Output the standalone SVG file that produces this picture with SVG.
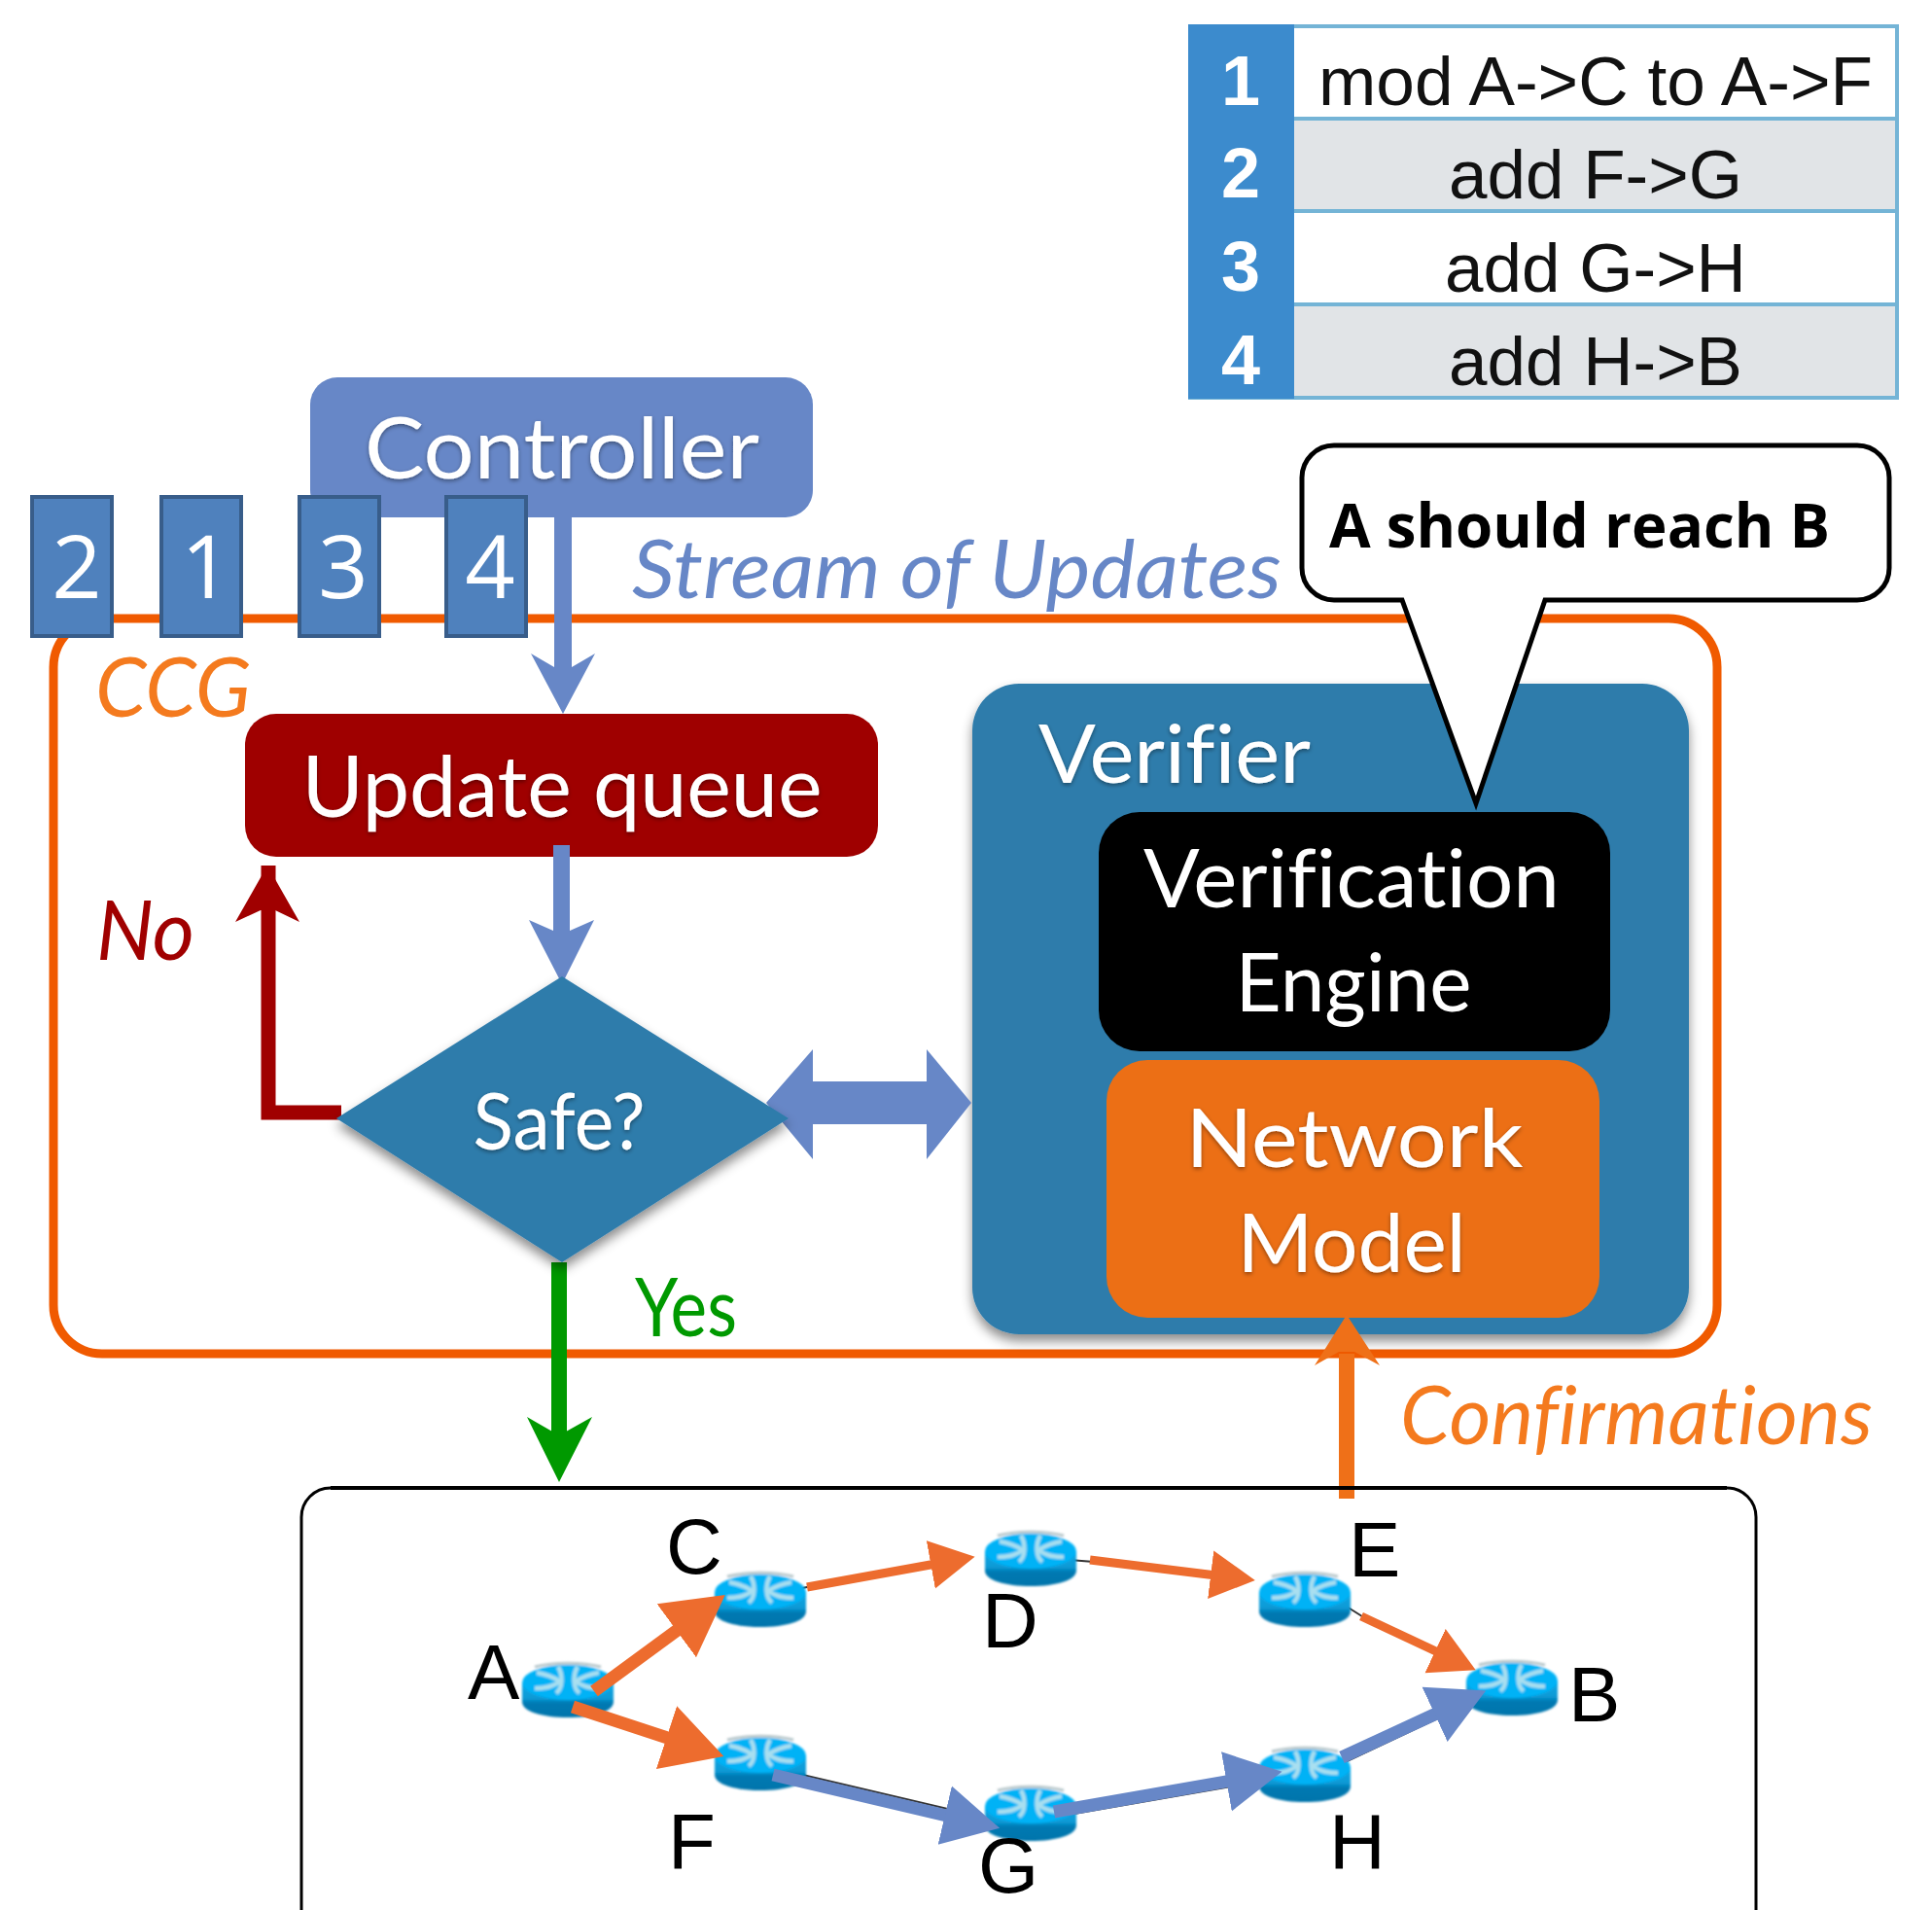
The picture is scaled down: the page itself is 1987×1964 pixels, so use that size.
<svg xmlns="http://www.w3.org/2000/svg" xmlns:xlink="http://www.w3.org/1999/xlink" width="1987" height="1964" viewBox="0 0 1987 1964">
<style>
text{font-variant-ligatures:none}
.gill{font-family:"Lato","Noto Sans",sans-serif;fill:#fff}
.arial{font-family:"Liberation Sans",Arial,sans-serif;fill:#000}
.tnum{font-family:"Liberation Sans",Arial,sans-serif;font-weight:700;fill:#fff;font-size:72px;text-anchor:middle}
.ttxt{font-size:71px;text-anchor:middle;fill:#111}
.node-lbl{font-size:80px}
.sq{fill:#4f81bd;stroke:#385d8a;stroke-width:4}
.sqt{font-family:"Open Sans","Noto Sans",sans-serif;fill:#fff;font-size:90px;text-anchor:middle}
.oline{stroke:#ed6c2e;fill:none}
.bline{stroke:#6787c7;fill:none}
.thin{stroke:#333;stroke-width:2;fill:none}
</style>
<defs>
<filter id="shadow" x="-10%" y="-10%" width="120%" height="125%"><feDropShadow dx="0" dy="7" stdDeviation="6" flood-color="#000" flood-opacity="0.45"/></filter>
<filter id="tshadow" x="-5%" y="-10%" width="110%" height="130%"><feDropShadow dx="0" dy="2" stdDeviation="2" flood-color="#000" flood-opacity="0.4"/></filter>
<filter id="soft" x="-10%" y="-10%" width="120%" height="120%"><feGaussianBlur stdDeviation="0.9"/></filter>
<linearGradient id="rbody" x1="0" y1="0" x2="0" y2="1"><stop offset="0" stop-color="#0ea6e4"/><stop offset="0.45" stop-color="#0a9ad6"/><stop offset="0.6" stop-color="#0079b2"/><stop offset="1" stop-color="#0075ab"/></linearGradient>
<marker id="ho-lg" markerUnits="userSpaceOnUse" markerWidth="70" markerHeight="70" refX="30" refY="34" orient="auto" viewBox="0 0 70 68"><path d="M0 0L62 34L0 68Z" fill="#ed6c2e"/></marker>
<marker id="ho" markerUnits="userSpaceOnUse" markerWidth="54" markerHeight="54" refX="22" refY="25" orient="auto" viewBox="0 0 54 50"><path d="M0 0L46 25L0 50Z" fill="#ed6c2e"/></marker>
<marker id="hb" markerUnits="userSpaceOnUse" markerWidth="66" markerHeight="66" refX="28" refY="31" orient="auto" viewBox="0 0 66 62"><path d="M0 0L58 31L0 62Z" fill="#6787c7"/></marker>
<g id="router" filter="url(#soft)">
<path d="M-47 -8V12C-47 22 -26 28 0 28S47 22 47 12V-8Z" fill="url(#rbody)"/>
<ellipse cx="0" cy="-8" rx="47" ry="18" fill="#00b2f6"/>
<path d="M-32 -18C-20 -16 -14 -13 -8 -9C-14 -5 -20 -2 -34 -2M32 -18C20 -16 14 -13 8 -9C14 -5 20 -2 34 -2M-10 -24C-5 -16 -5 -2 -12 3M10 -24C5 -16 5 -2 12 3" fill="none" stroke="#a9dff0" stroke-width="4.5"/>
<path d="M-34 -24C-14 -29 14 -29 34 -24" fill="none" stroke="#b8c8cc" stroke-width="3"/>
</g>
</defs>
<rect width="1987" height="1964" fill="#fff"/>

<g id="update-table">
<rect x="1224" y="27" width="727" height="382" fill="#fff"/>
<rect x="1331" y="122" width="620" height="95" fill="#e1e4e7"/>
<rect x="1331" y="313" width="620" height="96" fill="#e1e4e7"/>
<path d="M1331 122H1951M1331 217H1951M1331 313H1951" stroke="#74b4d6" stroke-width="4" fill="none"/>
<rect x="1224" y="27" width="727" height="382" fill="none" stroke="#74b4d6" stroke-width="4"/>
<rect x="1222" y="25" width="109" height="385" fill="#3c8bcd"/>
<text class="tnum" x="1276" y="108">1</text>
<text class="tnum" x="1276" y="203">2</text>
<text class="tnum" x="1276" y="299">3</text>
<text class="tnum" x="1276" y="395">4</text>
<text class="arial ttxt" x="1641" y="108" textLength="570" lengthAdjust="spacingAndGlyphs">mod A-&gt;C to A-&gt;F</text>
<text class="arial ttxt" x="1641" y="204">add F-&gt;G</text>
<text class="arial ttxt" x="1641" y="300">add G-&gt;H</text>
<text class="arial ttxt" x="1641" y="396">add H-&gt;B</text>
</g>

<g id="ccg">
<rect x="55" y="636" width="1711" height="756" rx="50" fill="none" stroke="#f05a00" stroke-width="9"/>
<text class="gill" x="98" y="737" font-size="86" font-style="italic" style="fill:#f47a1e" textLength="160" lengthAdjust="spacingAndGlyphs">CCG</text>
</g>

<g id="controller">
<rect x="319" y="388" width="517" height="144" rx="28" fill="#6787c7"/>
<text class="gill" x="578" y="492" font-size="88" text-anchor="middle" filter="url(#tshadow)" textLength="406" lengthAdjust="spacingAndGlyphs">Controller</text>
</g>

<g id="verifier">
<rect x="1000" y="703" width="737" height="669" rx="48" fill="#2f7cab" filter="url(#shadow)"/>
<text class="gill" x="1068" y="805" font-size="84" filter="url(#tshadow)" textLength="280" lengthAdjust="spacingAndGlyphs">Verifier</text>
</g>
<g id="verification-engine">
<rect x="1130" y="835" width="526" height="246" rx="42" fill="#000"/>
<text class="gill" x="1390" y="933" font-size="84" text-anchor="middle" textLength="428" lengthAdjust="spacingAndGlyphs">Verification</text>
<text class="gill" x="1392" y="1040" font-size="84" text-anchor="middle" textLength="243" lengthAdjust="spacingAndGlyphs">Engine</text>
</g>
<g id="network-model">
<rect x="1138" y="1090" width="507" height="265" rx="42" fill="#ec6f15"/>
<text class="gill" x="1393" y="1200" font-size="84" text-anchor="middle" filter="url(#tshadow)" textLength="347" lengthAdjust="spacingAndGlyphs">Network</text>
<text class="gill" x="1390" y="1308" font-size="84" text-anchor="middle" filter="url(#tshadow)" textLength="235" lengthAdjust="spacingAndGlyphs">Model</text>
</g>

<g id="update-queue">
<rect x="252" y="734" width="651" height="147" rx="32" fill="#9f0000"/>
<text class="gill" x="578" y="840" font-size="88" text-anchor="middle" filter="url(#tshadow)" textLength="535" lengthAdjust="spacingAndGlyphs">Update queue</text>
</g>

<g id="connectors">
<path d="M570 532V686L546 672L579 734L612 672L588 686V532Z" fill="#6787c7"/>
<path d="M569 869V957L544 946L578 1012L611 946L586 957V869Z" fill="#6787c7"/>
<path d="M351 1144H276V890" fill="none" stroke="#a00000" stroke-width="15"/>
<path d="M275 890L308 948L283 936H268L242 948Z" fill="#a00000"/>
<path d="M788 1134L836 1079V1112H953V1079L999 1134L953 1192V1156H836V1192Z" fill="#6787c7"/>
<path d="M575 1298V1480" fill="none" stroke="#009900" stroke-width="16"/>
<path d="M575 1524L542 1457L575 1476L609 1457Z" fill="#009900"/>
<path d="M1385 1541V1392" fill="none" stroke="#ef7018" stroke-width="16"/>
<path d="M1385 1352L1419 1404L1393 1390H1377L1352 1404Z" fill="#ef7018"/>
</g>

<g id="safe">
<path d="M346 1150L578 1004L811 1150L578 1298Z" fill="#2f7cab" filter="url(#shadow)"/>
<text class="gill" x="575" y="1182" font-size="82" text-anchor="middle" filter="url(#tshadow)" textLength="177" lengthAdjust="spacingAndGlyphs">Safe?</text>
</g>

<g id="label-no"><text class="gill" x="99" y="987" font-size="86" font-style="italic" style="fill:#a00000" textLength="101" lengthAdjust="spacingAndGlyphs">No</text></g>
<g id="label-yes"><text class="gill" x="653" y="1374" font-size="84" style="fill:#009900" textLength="105" lengthAdjust="spacingAndGlyphs">Yes</text></g>
<g id="label-stream"><text class="gill" x="650" y="615" font-size="84" font-style="italic" style="fill:#6787c7" textLength="668" lengthAdjust="spacingAndGlyphs">Stream of Updates</text></g>
<g id="label-confirm"><text class="gill" x="1440" y="1485" font-size="84" font-style="italic" style="fill:#f47a1e" textLength="486" lengthAdjust="spacingAndGlyphs">Confirmations</text></g>

<g id="update-2"><rect class="sq" x="33" y="511" width="82" height="143"/><text class="sqt" x="79" y="615">2</text></g>
<g id="update-1"><rect class="sq" x="166" y="511" width="82" height="143"/><text class="sqt" x="212" y="615">1</text></g>
<g id="update-3"><rect class="sq" x="308" y="511" width="82" height="143"/><text class="sqt" x="353" y="615">3</text></g>
<g id="update-4"><rect class="sq" x="459" y="511" width="82" height="143"/><text class="sqt" x="504" y="615">4</text></g>

<g id="callout">
<path d="M1372 458H1910A33 33 0 0 1 1943 491V584A33 33 0 0 1 1910 617H1589L1518 826L1442 617H1372A33 33 0 0 1 1339 584V491A33 33 0 0 1 1372 458Z" fill="#fff" stroke="#000" stroke-width="5"/>
<text x="1367" y="563" font-family="Open Sans, Noto Sans, sans-serif" font-weight="700" font-size="62" fill="#000" textLength="515" lengthAdjust="spacingAndGlyphs">A should reach B</text>
</g>

<g id="network-box">
<path d="M310 1964V1560A30 30 0 0 1 340 1530H1776A30 30 0 0 1 1806 1560V1964" fill="none" stroke="#000" stroke-width="3"/>
<path d="M340 1530H1776" fill="none" stroke="#000" stroke-width="4"/>
</g>

<g id="under-links">
<path class="thin" d="M820 1634L835 1631M1100 1604L1125 1606M1385 1652L1404 1664M800 1819L1000 1866M1070 1871L1300 1831M1381 1813L1500 1757"/>
</g>

<g id="router-a"><use href="#router" x="584" y="1738"/><text class="arial node-lbl" x="481" y="1747">A</text></g>
<g id="router-c"><use href="#router" x="782" y="1645"/><text class="arial node-lbl" x="685" y="1618">C</text></g>
<g id="router-d"><use href="#router" x="1060" y="1603"/><text class="arial node-lbl" x="1010" y="1694">D</text></g>
<g id="router-e"><use href="#router" x="1342" y="1645"/><text class="arial node-lbl" x="1387" y="1621">E</text></g>
<g id="router-b"><use href="#router" x="1555" y="1736"/><text class="arial node-lbl" x="1613" y="1770">B</text></g>
<g id="router-f"><use href="#router" x="782" y="1813"/><text class="arial node-lbl" x="687" y="1921">F</text></g>
<g id="router-g"><use href="#router" x="1060" y="1865"/><text class="arial node-lbl" x="1006" y="1946">G</text></g>
<g id="router-h"><use href="#router" x="1342" y="1825"/><text class="arial node-lbl" x="1367" y="1921">H</text></g>

<g id="links">
<path class="oline" d="M611 1739L720 1659" stroke-width="13" marker-end="url(#ho-lg)"/>
<path class="oline" d="M589 1755L714 1796" stroke-width="13" marker-end="url(#ho-lg)"/>
<path class="oline" d="M830 1632L979 1605" stroke-width="9" marker-end="url(#ho)"/>
<path class="oline" d="M1121 1604L1267 1622" stroke-width="9" marker-end="url(#ho)"/>
<path class="oline" d="M1400 1662L1496 1707" stroke-width="9" marker-end="url(#ho)"/>
<path class="bline" d="M795 1825L999 1873" stroke-width="13" marker-end="url(#hb)"/>
<path class="bline" d="M1084 1863L1289 1827" stroke-width="13" marker-end="url(#hb)"/>
<path class="bline" d="M1380 1807L1501 1751" stroke-width="13" marker-end="url(#hb)"/>
</g>
</svg>
